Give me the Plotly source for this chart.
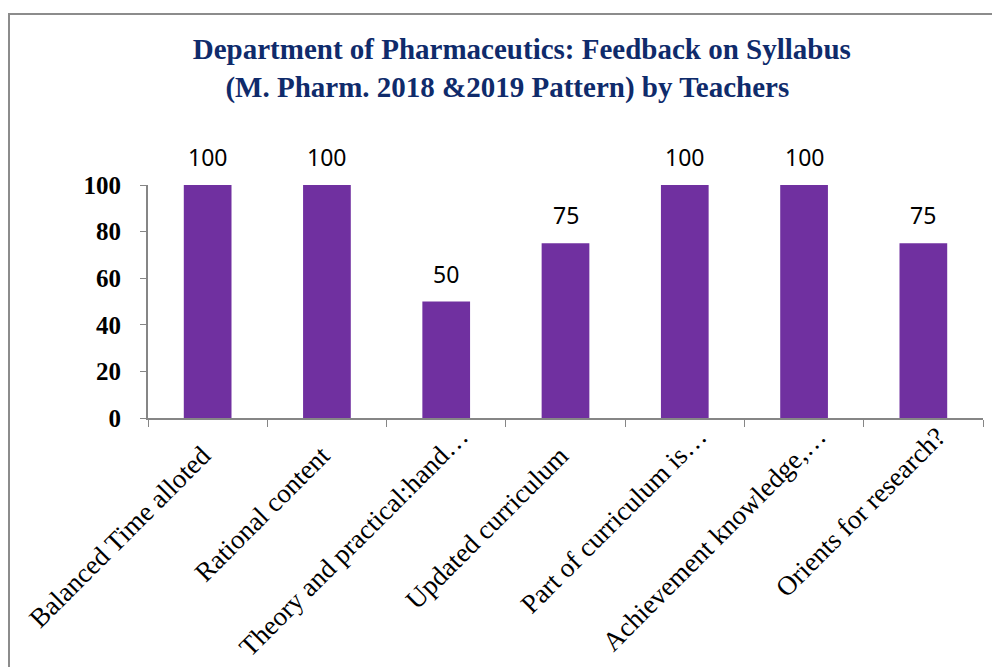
import plotly.graph_objects as go

categories = ["Balanced Time alloted", "Rational content", "Theory and practical:hand…",
              "Updated curriculum", "Part of curriculum is…", "Achievement knowledge,…",
              "Orients for research?"]
values = [100, 100, 50, 75, 100, 100, 75]
y_ticks = [0, 20, 40, 60, 80, 100]

SERIF = "Liberation Serif, Times New Roman, serif"

# visual padding so full labels end where the reference draws them
tick_text = [c if (c.endswith("…") or c.endswith("?")) else c + "&nbsp;" * 4 for c in categories]

fig = go.Figure()
fig.add_trace(go.Bar(
    x=categories, y=values, marker_color="#7030A0", marker_line_width=0,
))
for c, v in zip(categories, values):
    fig.add_annotation(x=c, y=v, text=str(v), showarrow=False, yanchor="bottom",
                       yshift=10, font=dict(family="Noto Sans, sans-serif", size=23, color="#000000"))

fig.update_layout(
    width=992, height=659,
    margin=dict(l=140, r=17, t=177, b=249, autoexpand=False),
    paper_bgcolor="white", plot_bgcolor="white",
    bargap=0.6,
    showlegend=False,
    title=dict(
        text="Department of Pharmaceutics: Feedback on Syllabus<br>(M. Pharm. 2018 &2019 Pattern) by Teachers&nbsp;&nbsp;&nbsp;&nbsp;",
        font=dict(family=SERIF, size=29, color="#0F2B6B", weight="bold"),
        x=0.518, xanchor="center", y=0.922, yanchor="top",
    ),
    xaxis=dict(
        tickangle=-45, ticks="outside", tickson="boundaries", ticklen=7, tickcolor="#868686",
        showline=True, linecolor="#868686", linewidth=2, automargin=False,
        tickmode="array", tickvals=categories, ticktext=tick_text,
        tickfont=dict(family=SERIF, size=27, color="#000000"),
        ticklabelshift=14, ticklabelstandoff=-10,
        showgrid=False,
    ),
    yaxis=dict(
        range=[0, 100], tickvals=y_ticks, ticks="outside", ticklen=6, tickcolor="#868686",
        showline=True, linecolor="#868686", linewidth=2, showgrid=False, zeroline=False,
        automargin=False,
        tickfont=dict(family=SERIF, size=25, color="#000000", weight="bold"),
        ticklabelstandoff=14,
    ),
    shapes=[dict(type="rect", xref="paper", yref="paper",
                 x0=(1 - 140) / 835, x1=1.2, y0=-1.5, y1=(410 - 6) / 233,
                 line=dict(color="#8C8C8C", width=2), fillcolor="rgba(0,0,0,0)", layer="below")],
)
fig.write_html("out.html")
